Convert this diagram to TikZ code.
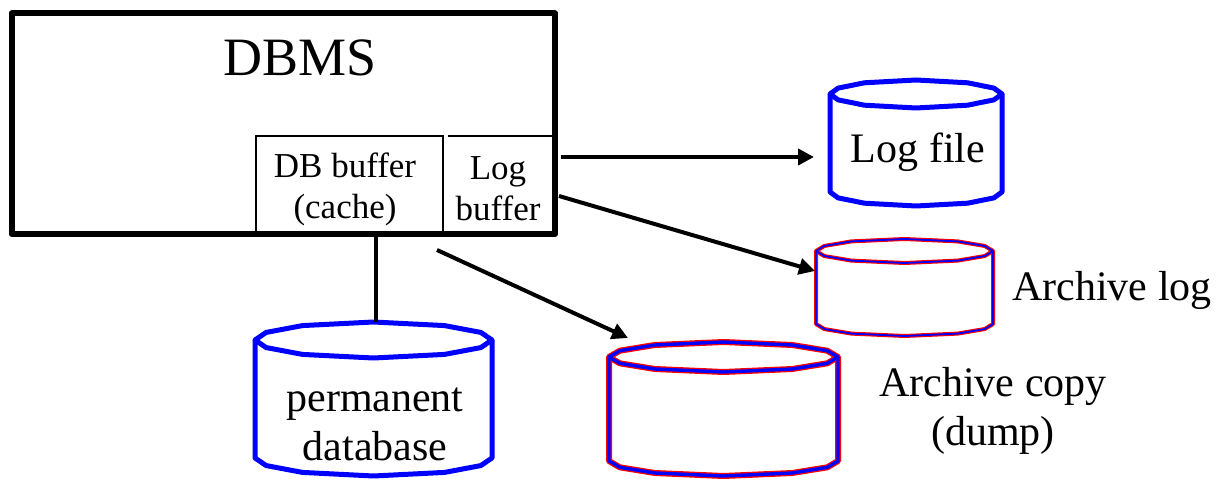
\documentclass[tikz,border=0pt]{standalone}
\usepackage{fontspec}
\setmainfont{Liberation Serif}
\usetikzlibrary{arrows.meta}
\newcommand\cylshape[6]{% #1 style, #2 left, #3 right, #4 top y, #5 rim y, #6 bottom rim y
  \draw[#1] (#2,#5) -- ({#2+0.047*(#3-#2)},{#5-0.42*(#5-#4)})
    -- ({#2+0.2*(#3-#2)},{#5-0.8*(#5-#4)}) -- ({(#2+#3)/2},#4)
    -- ({#3-0.2*(#3-#2)},{#5-0.8*(#5-#4)})
    -- ({#3-0.047*(#3-#2)},{#5-0.42*(#5-#4)}) -- (#3,#5)
    -- ({#3-0.047*(#3-#2)},{#5+0.42*(#5-#4)})
    -- ({#3-0.2*(#3-#2)},{#5+0.8*(#5-#4)}) -- ({(#2+#3)/2},{2*#5-#4})
    -- ({#2+0.2*(#3-#2)},{#5+0.8*(#5-#4)})
    -- ({#2+0.047*(#3-#2)},{#5+0.42*(#5-#4)}) -- cycle;
  \draw[#1] (#2,#5) -- (#2,#6) -- ({#2+0.047*(#3-#2)},{#6+0.42*(#5-#4)})
    -- ({#2+0.2*(#3-#2)},{#6+0.8*(#5-#4)})
    -- ({(#2+#3)/2},{#6+#5-#4})
    -- ({#3-0.2*(#3-#2)},{#6+0.8*(#5-#4)})
    -- ({#3-0.047*(#3-#2)},{#6+0.42*(#5-#4)})
    -- (#3,#6) -- (#3,#5);
}
\begin{document}
\begin{tikzpicture}[x=0.5pt,y=-0.5pt,
  outerbox/.style={draw=black,line width=3pt,line join=round},
  innerbox/.style={draw=black,line width=0.7pt},
  conn/.style={line width=2pt},
  arr/.style={line width=2pt,-{Triangle[length=8pt,width=8pt]}},
  bluecyl/.style={draw=blue,line width=2.5pt,line join=round},
  redcyl/.style={draw=red,line width=#1,line join=round},
  bluein/.style={draw=blue,line width=#1,line join=round},
  lab/.style={inner sep=0pt,align=center,font=\fontsize{21}{24.5}\selectfont},
  smalllab/.style={inner sep=0pt,align=center,font=\fontsize{17.5}{20.5}\selectfont}]
\useasboundingbox (0,0) rectangle (1224,491);

% DBMS box
\draw[outerbox] (11.5,13.5) rectangle (555,234);
\node[inner sep=0pt,font=\fontsize{27}{30}\selectfont] (dbms) at (300,58) {DBMS};
\draw[innerbox] (256,136) rectangle (443,233);
\draw[innerbox] (448,136) -- (553,136);
\node[smalllab] (dbbuf) at (345,189) {DB buffer\\(cache)};
\node[smalllab] (logbuf) at (498,189) {Log\\buffer};

% cylinders
\cylshape{bluecyl}{830}{1002}{80}{94}{192}
\node[lab] (logfile) at (918,152) {Log file};
\cylshape{bluecyl}{255}{492}{322}{340}{458}
\node[lab] (permdb) at (375,424) {permanent\\database};
\cylshape{redcyl=2pt}{816}{993}{239}{251}{324}
\cylshape{bluein=0.9pt}{816}{993}{239}{251}{324}
\node[lab] (archlog) at (1112,290) {Archive log};
\cylshape{redcyl=3pt}{609}{838}{342}{357}{461}
\cylshape{bluein=1.7pt}{609}{838}{342}{357}{461}
\node[lab] (archcopy) at (993,411) {Archive copy\\(dump)};

% connectors
\coordinate (dbbot) at (376,236);
\coordinate (pdbtop) at (376,322);
\draw[conn] (dbbot) -- (pdbtop);
\coordinate (a1s) at (561,157);
\coordinate (a1e) at (814,157);
\draw[arr] (a1s) -- (a1e);
\coordinate (a2s) at (559,196);
\coordinate (a2e) at (815,271);
\draw[arr] (a2s) -- (a2e);
\coordinate (a3s) at (437,250);
\coordinate (a3e) at (628,338);
\draw[arr] (a3s) -- (a3e);
\end{tikzpicture}
\end{document}
